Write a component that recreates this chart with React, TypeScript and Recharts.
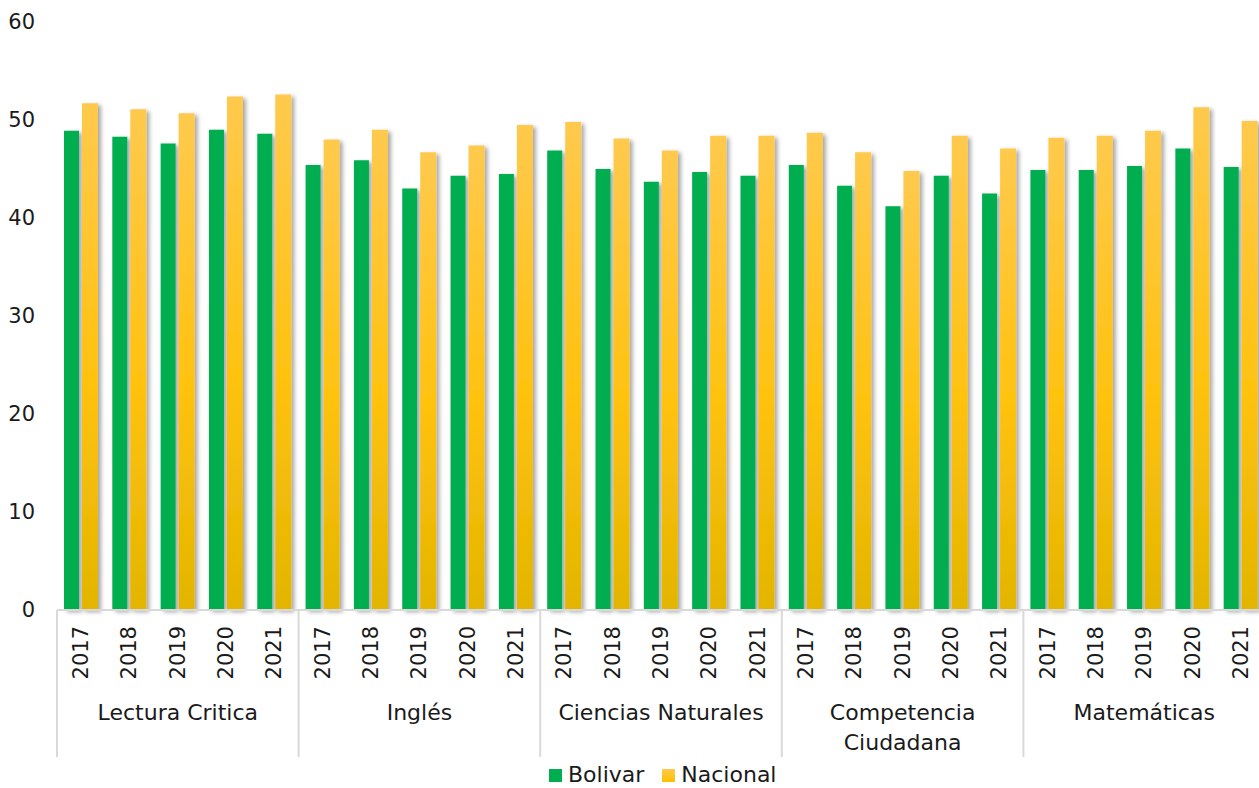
import React from "react";
import { BarChart, Bar, XAxis, YAxis, Legend } from "recharts";

const categories = ["Lectura Critica", "Inglés", "Ciencias Naturales", "Competencia\nCiudadana", "Matemáticas"];
const years = ["2017", "2018", "2019", "2020", "2021"];
const bolivar = [
  48.9, 48.3, 47.6, 49.0, 48.6,
  45.4, 45.9, 43.0, 44.3, 44.5,
  46.9, 45.0, 43.7, 44.7, 44.3,
  45.4, 43.3, 41.2, 44.3, 42.5,
  44.9, 44.9, 45.3, 47.1, 45.2,
];
const nacional = [
  51.7, 51.1, 50.7, 52.4, 52.6,
  48.0, 49.0, 46.7, 47.4, 49.5,
  49.8, 48.1, 46.9, 48.4, 48.4,
  48.7, 46.7, 44.8, 48.4, 47.1,
  48.2, 48.4, 48.9, 51.3, 49.9,
];
const yTicks = [0, 10, 20, 30, 40, 50, 60];

const data = categories.flatMap((cat, ci) =>
  years.map((year, yi) => ({
    cat,
    year,
    bolivar: bolivar[ci * 5 + yi],
    nacional: nacional[ci * 5 + yi],
  }))
);

const FONT = "'DejaVu Sans', sans-serif";
const WIDTH = 1266;
const LEFT = 57;
const RIGHT = 1;
const SLOT = (WIDTH - LEFT - RIGHT) / data.length;
const YEAR_H = 70;
const CAT_H = 77;
const GREEN = "#00AD4F";

function YearTick({ x, y, payload }: any) {
  return (
    <text
      x={x}
      y={y + 16}
      transform={`rotate(-90, ${x}, ${y + 16})`}
      textAnchor="end"
      dominantBaseline="central"
      fontSize={21}
      fontFamily={FONT}
      fill="#1a1a1a"
    >
      {payload.value}
    </text>
  );
}

function CatTick({ x, y, index }: any) {
  const pos = index % 5;
  const lines = [];
  if (pos === 0) lines.push(x - SLOT / 2);
  if (index === data.length - 1) lines.push(x + SLOT / 2);
  const label = pos === 2 ? categories[Math.floor(index / 5)].split("\n") : [];
  return (
    <g>
      {lines.map((lx, i) => (
        <line key={i} x1={lx} x2={lx} y1={y - YEAR_H} y2={y + CAT_H} stroke="#D9D9D9" strokeWidth={2} />
      ))}
      {label.map((t, i) => (
        <text
          key={t}
          x={x}
          y={y + 40 + i * 30}
          textAnchor="middle"
          fontSize={22}
          fontFamily={FONT}
          fill="#1a1a1a"
        >
          {t}
        </text>
      ))}
    </g>
  );
}

function LegendContent() {
  const items = [
    { name: "Bolivar", fill: GREEN },
    { name: "Nacional", fill: "url(#gradNacLeg)" },
  ];
  return (
    <div style={{ display: "flex", paddingLeft: 549, paddingTop: 5, fontFamily: FONT, fontSize: 22, color: "#1a1a1a", lineHeight: "26px" }}>
      {items.map((it) => (
        <span key={it.name} style={{ display: "inline-flex", alignItems: "center", marginRight: 18 }}>
          <svg width={13} height={13} style={{ marginRight: 6 }}>
            <defs>
              <linearGradient id="gradNacLeg" x1="0" y1="0" x2="0" y2="1">
                <stop offset="0%" stopColor="#FFC94D" />
                <stop offset="100%" stopColor="#FFC000" />
              </linearGradient>
            </defs>
            <rect width={13} height={13} fill={it.fill} />
          </svg>
          {it.name}
        </span>
      ))}
    </div>
  );
}

export default function App() {
  return (
    <div style={{ position: "absolute", left: 0, top: 0, width: 1259, height: 788, overflow: "hidden", background: "#fff" }}>
      <BarChart
        width={WIDTH}
        height={788}
        data={data}
        margin={{ top: 22, right: RIGHT, bottom: 0, left: 0 }}
        barGap={3}
      >
        <defs>
          <linearGradient id="gradNac" x1="0" y1="0" x2="0" y2="1">
            <stop offset="0%" stopColor="#FFC94D" />
            <stop offset="55%" stopColor="#FFC20F" />
            <stop offset="100%" stopColor="#E3B500" />
          </linearGradient>
          <filter id="barShadow" x="-50%" y="-10%" width="200%" height="120%">
            <feDropShadow dx={3} dy={2} stdDeviation={2} floodColor="#000" floodOpacity={0.35} />
          </filter>
        </defs>
        <XAxis
          dataKey="year"
          xAxisId={0}
          interval={0}
          height={YEAR_H}
          tickLine={false}
          axisLine={{ stroke: "#D9D9D9", strokeWidth: 2 }}
          tick={<YearTick />}
          tickSize={0}
          tickMargin={0}
        />
        <XAxis
          dataKey="cat"
          xAxisId={1}
          allowDuplicatedCategory
          interval={0}
          height={CAT_H}
          tickLine={false}
          axisLine={false}
          tick={<CatTick />}
          tickSize={0}
          tickMargin={0}
        />
        <YAxis
          domain={[0, 60]}
          ticks={yTicks}
          width={LEFT}
          axisLine={false}
          tickLine={false}
          tickSize={0}
          tickMargin={22}
          tick={{ fontSize: 21, fontFamily: FONT, fill: "#1a1a1a" }}
        />
        <Bar dataKey="bolivar" name="Bolivar" barSize={15} fill={GREEN} filter="url(#barShadow)" isAnimationActive={false} />
        <Bar dataKey="nacional" name="Nacional" barSize={16} fill="url(#gradNac)" filter="url(#barShadow)" isAnimationActive={false} />
        <Legend verticalAlign="bottom" height={31} content={<LegendContent />} />
      </BarChart>
    </div>
  );
}
